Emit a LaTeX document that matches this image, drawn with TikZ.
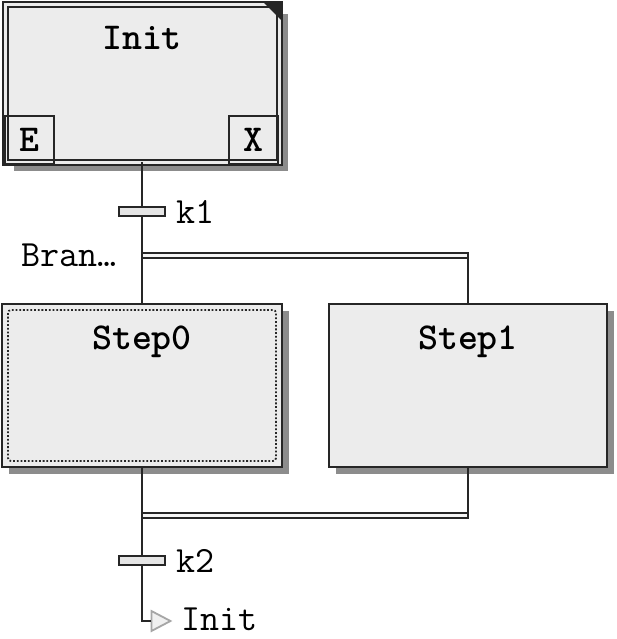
\documentclass[tikz,border=0pt]{standalone}
\usepackage{fontspec}
\usetikzlibrary{positioning,shadows,shapes.geometric}

\begin{document}
\begin{tikzpicture}[x=1pt,y=-1pt,line width=2.5pt,
  stepbox/.style={rectangle,draw=black!85,fill=gray!15,inner sep=0pt,outer sep=0pt},
  shadowed/.style={drop shadow={shadow xshift=#1,shadow yshift=-#1,fill=black!60,opacity=0.75}},
  selframe/.style={draw=black!85,line width=1.8pt,dash pattern=on 1.8pt off 1.9pt,rounded corners=3pt},
  portbox/.style={rectangle,draw=black!85,line width=2pt,minimum width=49pt,minimum height=48pt,inner sep=0pt,outer sep=0pt,
    font=\ttfamily\bfseries\fontsize{38}{38}\selectfont},
  title/.style={font=\ttfamily\bfseries\fontsize{38}{38}\selectfont,inner sep=0pt},
  lbl/.style={font=\ttfamily\fontsize{37}{37}\selectfont,inner sep=0pt},
  trans/.style={rectangle,draw=black!85,fill=gray!20,minimum width=46pt,minimum height=9pt,inner sep=0pt,outer sep=0pt},
  dblbar/.style={rectangle,draw=black!85,fill=gray!8,minimum width=326pt,minimum height=5pt,inner sep=0pt,outer sep=0pt},
  jump/.style={isosceles triangle,isosceles triangle stretches,draw=gray!70,fill=gray!12,line width=1.8pt,
    minimum height=19pt,minimum width=20pt,inner sep=0pt,outer sep=0pt},
  conn/.style={draw=black!85,line width=2.5pt}]
  \useasboundingbox (0,0) rectangle (616,639);
  % initial step
  \node[stepbox,shadowed=9pt,line width=2pt,double=gray!15,double distance=3pt,minimum width=274pt,minimum height=157.5pt] (init) at (142,83.75) {};
  \fill[black!85] ([shift={(-16,-3)}]init.north east) -- ([shift={(3,-3)}]init.north east) -- ([shift={(3,16)}]init.north east) -- cycle;
  \node[title,below=20pt of init.north] (initt) {Init};
  \node[portbox] (ebox) at (29,140) {E};
  \node[portbox] (xbox) at (253.5,140) {X};
  % parallel steps
  \node[stepbox,shadowed=7pt,minimum width=280pt,minimum height=163pt] (step0) at (142,385.5) {};
  \draw[selframe] ([shift={(6,6)}]step0.north west) rectangle ([shift={(-6,-6)}]step0.south east);
  \node[title,below=21pt of step0.north] (step0t) {Step0};
  \node[stepbox,shadowed=7pt,minimum width=278pt,minimum height=163pt] (step1) at (468,385.5) {};
  \node[title,below=21pt of step1.north] (step1t) {Step1};
  % transitions and branch bars
  \node[trans] (k1) at (142,211.5) {};
  \node[lbl,right=10pt of k1] (k1t) {k1};
  \node[dblbar] (branch) at (305,255.5) {};
  \node[lbl,left=24pt of branch.west] (brancht) {Bran…};
  \node[dblbar] (merge) at (305,515.5) {};
  \node[trans] (k2) at (142,560.5) {};
  \node[lbl,right=10pt of k2] (k2t) {k2};
  \node[jump] (jmp) at (157.5,621) {};
  \node[lbl,right=10pt of jmp,yshift=2pt] (jmpt) {Init};
  % links
  \draw[conn] (init.south) -- (k1.north);
  \draw[conn] (k1.south) -- (step0.north);
  \draw[conn] (branch.north east) -- (step1.north);
  \draw[conn] (step0.south) -- (k2.north);
  \draw[conn] (step1.south) -- (merge.south east);
  \draw[conn] (k2.south) |- (jmp.west);
\end{tikzpicture}
\end{document}
